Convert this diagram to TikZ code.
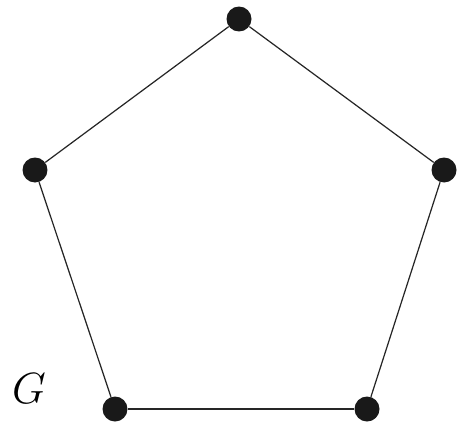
\documentclass[tikz,border=0pt]{standalone}
\usepackage{tikz}
\usetikzlibrary{positioning}

\begin{document}
\begin{tikzpicture}[
  x=0.02cm, y=-0.02cm,
  vert/.style={
    circle,
    fill=black!90,
    inner sep=0pt,
    minimum size=0.5cm
  },
  edge/.style={line width=0.7pt, black!85}
]

% bounding box of the reference
\useasboundingbox (0,0) rectangle (459,426);

% =========================================================
% VERTICES
% =========================================================

\node[vert] (top)   at (239,19)  {};
\node[vert] (left)  at (35,170)  {};
\node[vert] (right) at (444,170) {};
\node[vert] (bl)    at (115,409) {};
\node[vert] (br)    at (367,409) {};

% =========================================================
% EDGES
% =========================================================

\draw[edge] (top)--(right);
\draw[edge] (right)--(br);
\draw[edge] (br)--(bl);
\draw[edge] (bl)--(left);
\draw[edge] (left)--(top);

% label
\node (glabel) at (29,389) {\fontsize{29}{32}\selectfont $G$};

\end{tikzpicture}
\end{document}
